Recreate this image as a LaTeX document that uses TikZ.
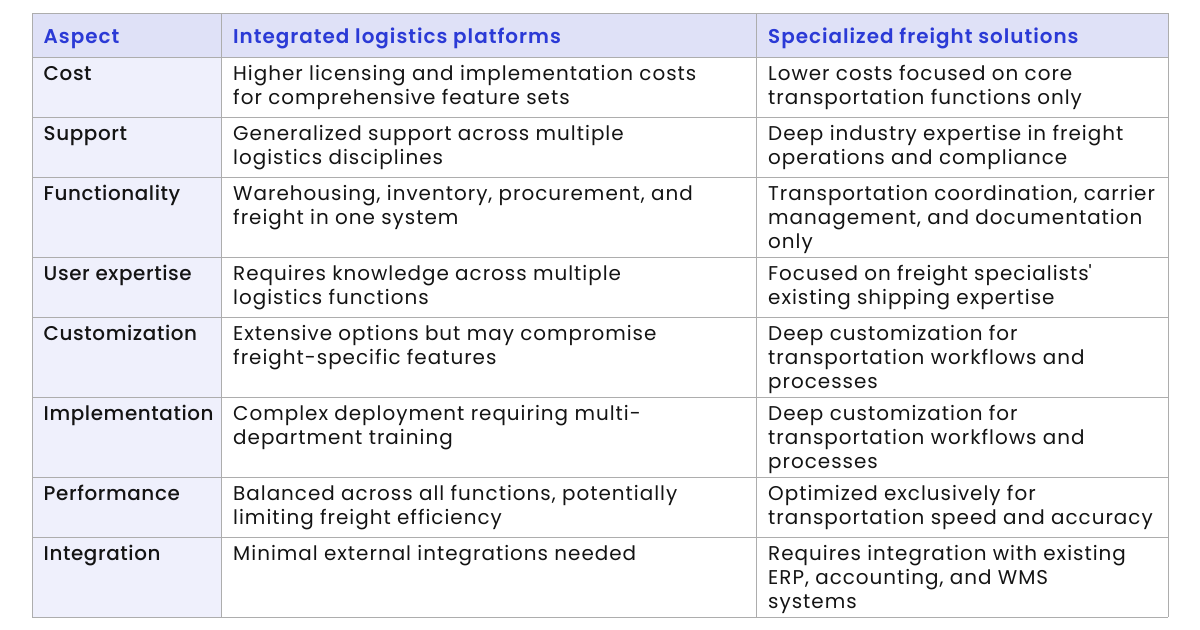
\documentclass[tikz,border=0pt]{standalone}
\usepackage{fontspec}
\setmainfont{Poppins}[LetterSpace=5,BoldFont={Poppins SemiBold}]
\newfontfamily\labelfont{Poppins Medium}[LetterSpace=3]
\definecolor{hdrfill}{HTML}{DFE1F7}
\definecolor{colfill}{HTML}{EFF0FC}
\definecolor{gridc}{HTML}{ADADAD}
\definecolor{hdrtext}{HTML}{2B3AD6}
\definecolor{bodytext}{HTML}{141414}
\tikzset{
  cell/.style={anchor=north west, inner sep=0pt, align=left, text=bodytext,
    font=\fontsize{20}{24}\selectfont},
  lcell/.style={cell, font=\fontsize{20}{24}\selectfont\labelfont},
  hcell/.style={cell, text=hdrtext, font=\fontsize{20}{24}\selectfont\bfseries},
  gridline/.style={draw=gridc, line width=1bp}
}
\newcommand{\fs}{\rule{0pt}{18bp}}
\begin{document}
\begin{tikzpicture}[x=1bp,y=-1bp]
\useasboundingbox (0,0) rectangle (1200,630);
\fill[white] (0,0) rectangle (1200,630);
% fills
\fill[hdrfill] (32,13.5) rectangle (1168,57.3);
\fill[colfill] (32,57.3) rectangle (221.7,617);
% grid
\foreach \yy in {13.5,57.3,117.3,177.3,257.3,317.3,397.3,477.3,537.3,617}
  \draw[gridline] (32,\yy) -- (1168,\yy);
\foreach \xx in {32,221.7,756.7,1168}
  \draw[gridline] (\xx,13.5) -- (\xx,617);
% header
\node[hcell] (h1) at (43.5,43-18) {\fs Aspect};
\node[hcell] (h2) at (233,43-18) {\fs Integrated logistics platforms};
\node[hcell] (h3) at (768,43-18) {\fs Specialized freight solutions};
% rows
\node[lcell] (a1) at (43.5,80.5-18) {\fs Cost};
\node[cell] (b1) at (233,80.5-18) {\fs Higher licensing and implementation costs\\for comprehensive feature sets};
\node[cell] (c1) at (768,80.5-18) {\fs Lower costs focused on core\\transportation functions only};
\node[lcell] (a2) at (43.5,140.5-18) {\fs Support};
\node[cell] (b2) at (233,140.5-18) {\fs Generalized support across multiple\\logistics disciplines};
\node[cell] (c2) at (768,140.5-18) {\fs Deep industry expertise in freight\\operations and compliance};
\node[lcell] (a3) at (43.5,200.3-18) {\fs Functionality};
\node[cell] (b3) at (233,200.3-18) {\fs Warehousing, inventory, procurement, and\\freight in one system};
\node[cell] (c3) at (768,200.3-18) {\fs Transportation coordination, carrier\\management, and documentation\\only};
\node[lcell] (a4) at (43.5,280.3-18) {\fs User expertise};
\node[cell] (b4) at (233,280.3-18) {\fs Requires knowledge across multiple\\logistics functions};
\node[cell] (c4) at (768,280.3-18) {\fs Focused on freight specialists\textquotesingle\\existing shipping expertise};
\node[lcell] (a5) at (43.5,340.3-18) {\fs Customization};
\node[cell] (b5) at (233,340.3-18) {\fs Extensive options but may compromise\\freight-specific features};
\node[cell] (c5) at (768,340.3-18) {\fs Deep customization for\\transportation workflows and\\processes};
\node[lcell] (a6) at (43.5,420.3-18) {\fs Implementation};
\node[cell] (b6) at (233,420.3-18) {\fs Complex deployment requiring multi-\\department training};
\node[cell] (c6) at (768,420.3-18) {\fs Deep customization for\\transportation workflows and\\processes};
\node[lcell] (a7) at (43.5,500.3-18) {\fs Performance};
\node[cell] (b7) at (233,500.3-18) {\fs Balanced across all functions, potentially\\limiting freight efficiency};
\node[cell] (c7) at (768,500.3-18) {\fs Optimized exclusively for\\transportation speed and accuracy};
\node[lcell] (a8) at (43.5,560.3-18) {\fs Integration};
\node[cell] (b8) at (233,560.3-18) {\fs Minimal external integrations needed};
\node[cell] (c8) at (768,560.3-18) {\fs Requires integration with existing\\ERP, accounting, and WMS\\systems};
\end{tikzpicture}
\end{document}
